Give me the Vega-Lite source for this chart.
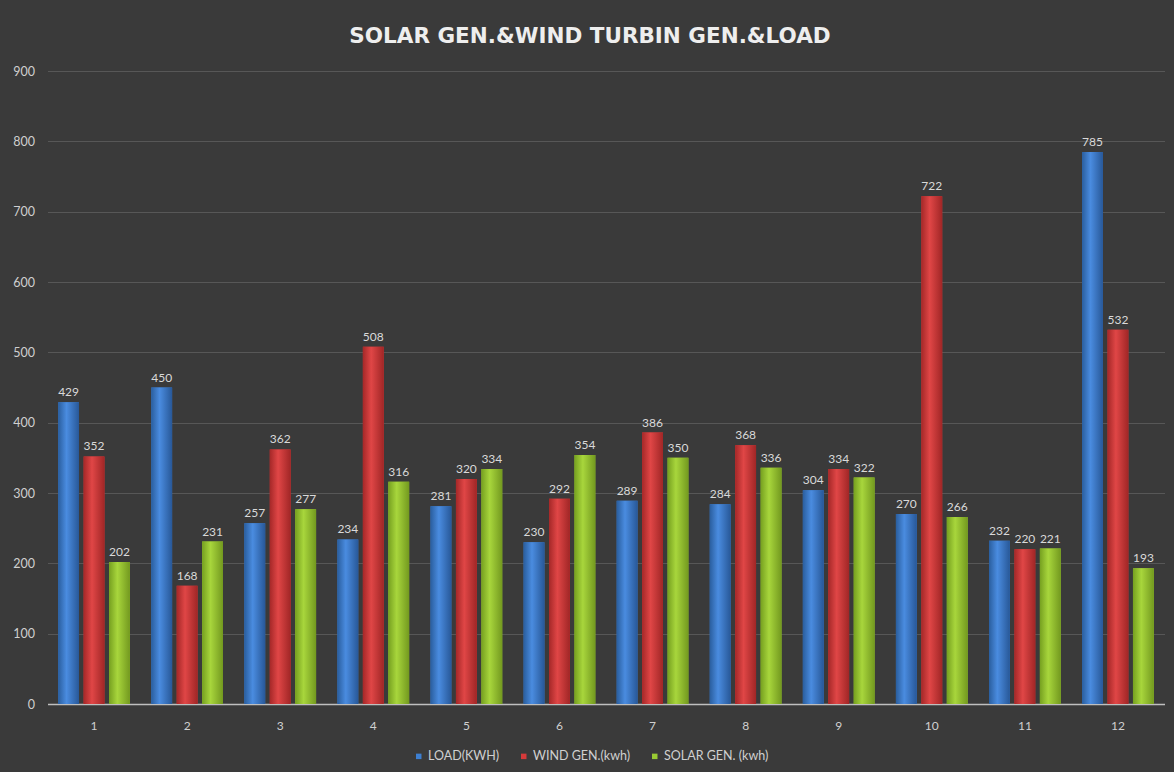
{
  "$schema": "https://vega.github.io/schema/vega-lite/v6.json",
  "autosize": {"type": "none"},
  "width": 1117,
  "height": 633,
  "padding": {"left": 47.5, "top": 71, "right": 9.5, "bottom": 68},
  "background": "#3a3a3a",
  "config": {
    "view": {"stroke": null},
    "font": "Lato"
  },
  "title": {
    "text": "SOLAR GEN.&WIND TURBIN GEN.&LOAD",
    "font": "DejaVu Sans",
    "fontSize": 21.5,
    "fontWeight": "bold",
    "color": "#eeeeee",
    "anchor": "middle",
    "dx": -16,
    "offset": 18
  },
  "data": {
    "values": [
      {"month": "1", "series": "LOAD(KWH)", "value": 429},
      {"month": "1", "series": "WIND GEN.(kwh)", "value": 352},
      {"month": "1", "series": "SOLAR GEN. (kwh)", "value": 202},
      {"month": "2", "series": "LOAD(KWH)", "value": 450},
      {"month": "2", "series": "WIND GEN.(kwh)", "value": 168},
      {"month": "2", "series": "SOLAR GEN. (kwh)", "value": 231},
      {"month": "3", "series": "LOAD(KWH)", "value": 257},
      {"month": "3", "series": "WIND GEN.(kwh)", "value": 362},
      {"month": "3", "series": "SOLAR GEN. (kwh)", "value": 277},
      {"month": "4", "series": "LOAD(KWH)", "value": 234},
      {"month": "4", "series": "WIND GEN.(kwh)", "value": 508},
      {"month": "4", "series": "SOLAR GEN. (kwh)", "value": 316},
      {"month": "5", "series": "LOAD(KWH)", "value": 281},
      {"month": "5", "series": "WIND GEN.(kwh)", "value": 320},
      {"month": "5", "series": "SOLAR GEN. (kwh)", "value": 334},
      {"month": "6", "series": "LOAD(KWH)", "value": 230},
      {"month": "6", "series": "WIND GEN.(kwh)", "value": 292},
      {"month": "6", "series": "SOLAR GEN. (kwh)", "value": 354},
      {"month": "7", "series": "LOAD(KWH)", "value": 289},
      {"month": "7", "series": "WIND GEN.(kwh)", "value": 386},
      {"month": "7", "series": "SOLAR GEN. (kwh)", "value": 350},
      {"month": "8", "series": "LOAD(KWH)", "value": 284},
      {"month": "8", "series": "WIND GEN.(kwh)", "value": 368},
      {"month": "8", "series": "SOLAR GEN. (kwh)", "value": 336},
      {"month": "9", "series": "LOAD(KWH)", "value": 304},
      {"month": "9", "series": "WIND GEN.(kwh)", "value": 334},
      {"month": "9", "series": "SOLAR GEN. (kwh)", "value": 322},
      {"month": "10", "series": "LOAD(KWH)", "value": 270},
      {"month": "10", "series": "WIND GEN.(kwh)", "value": 722},
      {"month": "10", "series": "SOLAR GEN. (kwh)", "value": 266},
      {"month": "11", "series": "LOAD(KWH)", "value": 232},
      {"month": "11", "series": "WIND GEN.(kwh)", "value": 220},
      {"month": "11", "series": "SOLAR GEN. (kwh)", "value": 221},
      {"month": "12", "series": "LOAD(KWH)", "value": 785},
      {"month": "12", "series": "WIND GEN.(kwh)", "value": 532},
      {"month": "12", "series": "SOLAR GEN. (kwh)", "value": 193}
    ]
  },
  "encoding": {
    "x": {
      "field": "month",
      "type": "nominal",
      "sort": ["1","2","3","4","5","6","7","8","9","10","11","12"],
      "scale": {"paddingInner": 0.18, "paddingOuter": 0.09},
      "axis": {
        "title": null,
        "labelAngle": 0,
        "labelColor": "#d0d0d0",
        "labelFontSize": 12,
        "labelPadding": 16,
        "ticks": false,
        "domain": true,
        "domainColor": "#bfbfbf",
        "domainWidth": 1.5,
        "grid": false
      }
    },
    "xOffset": {
      "field": "series",
      "type": "nominal",
      "sort": ["LOAD(KWH)", "WIND GEN.(kwh)", "SOLAR GEN. (kwh)"],
      "scale": {"domain": ["LOAD(KWH)", "WIND GEN.(kwh)", "SOLAR GEN. (kwh)"], "paddingInner": 0.18, "paddingOuter": 0.09}
    },
    "y": {
      "field": "value",
      "type": "quantitative",
      "scale": {"domain": [0, 900], "nice": false},
      "axis": {
        "title": null,
        "values": [0,100,200,300,400,500,600,700,800,900],
        "labelColor": "#cfcfcf",
        "labelFontSize": 12.5,
        "labelPadding": 13,
        "ticks": false,
        "domain": false,
        "grid": true,
        "gridColor": "#575757",
        "gridWidth": 1
      }
    }
  },
  "layer": [
    {
      "mark": {"type": "bar"},
      "encoding": {
        "color": {
          "field": "series",
          "type": "nominal",
          "sort": ["LOAD(KWH)", "WIND GEN.(kwh)", "SOLAR GEN. (kwh)"],
          "scale": {"domain": ["LOAD(KWH)", "WIND GEN.(kwh)", "SOLAR GEN. (kwh)"], "range": ["#3d7fd1", "#d53a3a", "#9acb33"]},
          "legend": {
            "title": null,
            "orient": "none",
            "direction": "horizontal",
            "legendX": 365,
            "legendY": 679,
            "symbolType": "square",
            "symbolSize": 30,
            "symbolStrokeWidth": 0,
            "labelColor": "#d0d0d0",
            "labelFontSize": 12.5,
            "labelOffset": 3,
            "columnPadding": 18
          }
        }
      }
    },
    {
      "transform": [{"filter": "datum.series === 'LOAD(KWH)'"}],
      "mark": {
        "type": "bar",
        "fill": {"gradient": "linear", "x1": 0, "x2": 1, "y1": 0, "y2": 0,
          "stops": [{"offset": 0, "color": "#2a5e9e"}, {"offset": 0.4, "color": "#4a8ce0"}, {"offset": 1, "color": "#285898"}]}
      }
    },
    {
      "transform": [{"filter": "datum.series === 'WIND GEN.(kwh)'"}],
      "mark": {
        "type": "bar",
        "fill": {"gradient": "linear", "x1": 0, "x2": 1, "y1": 0, "y2": 0,
          "stops": [{"offset": 0, "color": "#a52828"}, {"offset": 0.4, "color": "#e04646"}, {"offset": 1, "color": "#a02626"}]}
      }
    },
    {
      "transform": [{"filter": "datum.series === 'SOLAR GEN. (kwh)'"}],
      "mark": {
        "type": "bar",
        "fill": {"gradient": "linear", "x1": 0, "x2": 1, "y1": 0, "y2": 0,
          "stops": [{"offset": 0, "color": "#76a020"}, {"offset": 0.4, "color": "#a8d63c"}, {"offset": 1, "color": "#73991f"}]}
      }
    },
    {
      "mark": {"type": "text", "dy": -10, "fontSize": 12, "color": "#d9d9d9", "font": "Lato"},
      "encoding": {"text": {"field": "value", "type": "quantitative"}}
    }
  ]
}
